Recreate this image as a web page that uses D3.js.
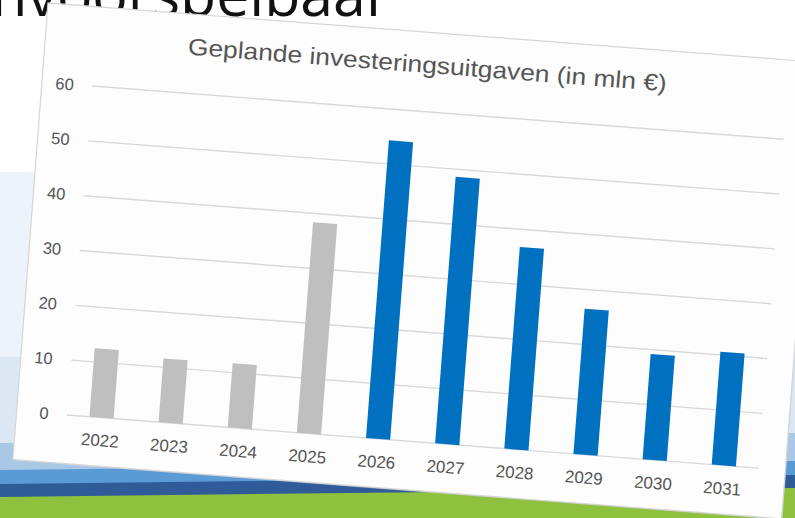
<!DOCTYPE html>
<html><head><meta charset="utf-8">
<script src="https://cdn.jsdelivr.net/npm/d3@7"></script>
<style>html,body{margin:0;padding:0;background:#fff;overflow:hidden}</style>
</head><body>
<svg id="c" width="795" height="518"></svg>
<script>
// ---- data ----
const categories = ["2022","2023","2024","2025","2026","2027","2028","2029","2030","2031"];
const values = [12.5, 11.6, 11.7, 38.4, 54.3, 48.6, 36.8, 26.5, 19.2, 20.6];
const groups = ["actual","actual","actual","actual","plan","plan","plan","plan","plan","plan"];
const yTicks = [0, 10, 20, 30, 40, 50, 60];
const chartTitle = "Geplande investeringsuitgaven (in mln €)";
const slideWord = "onvoorspelbaar";

// ---- styles ----
const groupColor = {actual: "#bfbfbf", plan: "#0070c0"};
const W = 795, H = 518;
const svg = d3.select("#c");

// slide background bands (slightly tilted)
const bands = [
  {yl: 172, yr: 162, c: "#edf3fa"},
  {yl: 357, yr: 348, c: "#dbe7f3"},
  {yl: 443, yr: 433, c: "#a8c8e6"},
  {yl: 470, yr: 461, c: "#5b9bd5"},
  {yl: 484, yr: 475, c: "#2f5b98"},
  {yl: 497, yr: 488, c: "#8ec13e"}
];
svg.append("rect").attr("width", W).attr("height", H).attr("fill", "#ffffff");
bands.forEach(b => {
  svg.append("polygon")
    .attr("points", `0,${b.yl} ${W},${b.yr} ${W},${H} 0,${H}`)
    .attr("fill", b.c);
});
svg.append("text").attr("x", 390).attr("y", 16)
  .attr("text-anchor", "end")
  .attr("font-family", "'Open Sans', sans-serif")
  .attr("font-size", 59).attr("fill", "#111")
  .text(slideWord);

// ---- card (rotated chart) ----
const cardW = 771, cardH = 458;
const card = svg.append("g").attr("transform", "translate(48,3) rotate(4.4)");
card.append("rect").attr("x", 1).attr("y", 1).attr("width", cardW).attr("height", cardH)
  .attr("fill", "#c9ced6").attr("opacity", 0.5);
card.append("rect").attr("width", cardW).attr("height", cardH)
  .attr("fill", "#fdfdfd").attr("stroke", "#d6d6d6").attr("stroke-width", 1.2);

const x = d3.scaleBand().domain(categories).range([50.5, 744]).paddingInner(0.65).paddingOuter(0.325);
const y = d3.scaleLinear().domain([0, 60]).range([409.3, 79.4]);

// gridlines
card.append("g").selectAll("line").data(yTicks).join("line")
  .attr("x1", 50.5).attr("x2", 744)
  .attr("y1", d => y(d)).attr("y2", d => y(d))
  .attr("stroke", "#d9d9d9").attr("stroke-width", 1.4);

// y axis labels
const yAxis = d3.axisLeft(y).tickValues(yTicks).tickSize(0).tickPadding(0).tickFormat(d3.format("d"));
const yg = card.append("g").attr("transform", "translate(32,0)").call(yAxis);
yg.select(".domain").remove();
yg.selectAll("text").attr("font-family", "'Liberation Sans', Arial, sans-serif")
  .attr("font-size", 16.5).attr("fill", "#555");

// x axis labels
const xAxis = d3.axisBottom(x).tickSize(0).tickPadding(0);
const xg = card.append("g").attr("transform", "translate(0,426)").call(xAxis);
xg.select(".domain").remove();
xg.selectAll("text").attr("font-family", "'Liberation Sans', Arial, sans-serif")
  .attr("font-size", 17).attr("fill", "#555");

// bars
card.append("g").selectAll("rect").data(categories).join("rect")
  .attr("x", d => x(d)).attr("width", x.bandwidth())
  .attr("y", (d, i) => y(values[i]))
  .attr("height", (d, i) => y(0) - y(values[i]))
  .attr("fill", (d, i) => groupColor[groups[i]]);

// title
card.append("text").attr("x", 383).attr("y", 40.6)
  .attr("text-anchor", "middle")
  .attr("font-family", "'Liberation Sans', Arial, sans-serif")
  .attr("font-size", 23.5).attr("fill", "#555")
  .attr("textLength", 480).attr("lengthAdjust", "spacingAndGlyphs")
  .text(chartTitle);
</script>
</body></html>
